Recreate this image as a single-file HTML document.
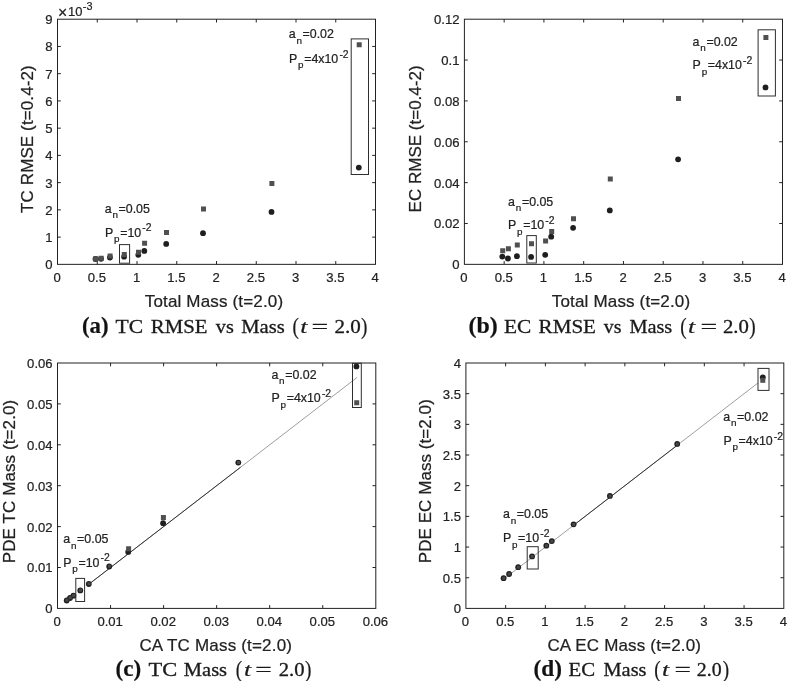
<!DOCTYPE html>
<html lang="en"><head><meta charset="utf-8"><title>Figure: RMSE and mass comparisons</title>
<style>html,body{margin:0;padding:0;background:#fff}svg{display:block}svg text{font-family:"Liberation Sans",Arial,Helvetica,sans-serif;stroke:#222;stroke-width:0.22px}.cap{font-family:"Liberation Serif","Times New Roman",serif;font-size:19px;fill:#1a1a1a;stroke:#1a1a1a;stroke-width:0.3px}.capb{font-family:"Liberation Serif","Times New Roman",serif;font-weight:bold;font-size:24px;fill:#111}.capi{font-family:"Liberation Serif","Times New Roman",serif;font-style:italic;font-size:19.5px;fill:#1a1a1a;stroke:#1a1a1a;stroke-width:0.2px}.capp{font-family:"Liberation Serif","Times New Roman",serif;font-size:23px;fill:#1a1a1a}</style></head><body>
<svg width="788" height="681" viewBox="0 0 788 681">
<rect width="788" height="681" fill="#fff"/>
<rect x="57.5" y="19.2" width="318" height="245.15" fill="none" stroke="#222" stroke-width="1.0"/>
<path d="M97.25 264.35v-3.3M97.25 19.2v3.3M137 264.35v-3.3M137 19.2v3.3M176.75 264.35v-3.3M176.75 19.2v3.3M216.5 264.35v-3.3M216.5 19.2v3.3M256.25 264.35v-3.3M256.25 19.2v3.3M296 264.35v-3.3M296 19.2v3.3M335.75 264.35v-3.3M335.75 19.2v3.3M57.5 237.11h3.3M375.5 237.11h-3.3M57.5 209.87h3.3M375.5 209.87h-3.3M57.5 182.63h3.3M375.5 182.63h-3.3M57.5 155.39h3.3M375.5 155.39h-3.3M57.5 128.16h3.3M375.5 128.16h-3.3M57.5 100.92h3.3M375.5 100.92h-3.3M57.5 73.68h3.3M375.5 73.68h-3.3M57.5 46.44h3.3M375.5 46.44h-3.3" stroke="#222" stroke-width="1" fill="none"/>
<g font-size="13.1" fill="#222">
<g text-anchor="middle">
<text x="57.1" y="282.35">0</text>
<text x="96.85" y="282.35">0.5</text>
<text x="136.6" y="282.35">1</text>
<text x="176.35" y="282.35">1.5</text>
<text x="216.1" y="282.35">2</text>
<text x="255.85" y="282.35">2.5</text>
<text x="295.6" y="282.35">3</text>
<text x="335.35" y="282.35">3.5</text>
<text x="375.1" y="282.35">4</text>
</g><g text-anchor="end">
<text x="52.6" y="269.25">0</text>
<text x="52.6" y="242.01">1</text>
<text x="52.6" y="214.77">2</text>
<text x="52.6" y="187.53">3</text>
<text x="52.6" y="160.29">4</text>
<text x="52.6" y="133.06">5</text>
<text x="52.6" y="105.82">6</text>
<text x="52.6" y="78.58">7</text>
<text x="52.6" y="51.34">8</text>
<text x="52.6" y="24.1">9</text>
</g></g>
<text font-size="12.9" fill="#222"><tspan x="58.0" y="17.6" font-size="15.8">×</tspan><tspan x="68.1" y="16.3">10</tspan><tspan x="82.8" y="9.8" font-size="10.8">-3</tspan></text>
<text x="213.9" y="306.6" font-size="17" text-anchor="middle" fill="#222" textLength="138.3">Total Mass (t=2.0)</text>
<text transform="translate(32.8 139.1) rotate(-90)" font-size="17" text-anchor="middle" fill="#222" textLength="147.6">TC RMSE (t=0.4-2)</text>
<g fill="#1f1f1f"><circle cx="358.8" cy="167.6" r="2.9"/><circle cx="271.5" cy="211.9" r="2.9"/><circle cx="203" cy="233.2" r="2.9"/><circle cx="166.2" cy="243.9" r="2.9"/><circle cx="144.3" cy="250.9" r="2.9"/><circle cx="138.3" cy="254.8" r="2.9"/><circle cx="124.1" cy="256.7" r="2.9"/><circle cx="109.9" cy="257.5" r="2.9"/><circle cx="101" cy="258.8" r="2.9"/><circle cx="95.5" cy="259" r="2.9"/></g>
<path d="M356.7 42.2h5.0v5.0h-5.0zM269.4 181h5.0v5.0h-5.0zM201 206.6h5.0v5.0h-5.0zM164 230h5.0v5.0h-5.0zM142.1 240.8h5.0v5.0h-5.0zM136 249.7h5.0v5.0h-5.0zM121.8 252h5.0v5.0h-5.0zM107.6 253.4h5.0v5.0h-5.0zM98.7 255.8h5.0v5.0h-5.0zM93.2 256.2h5.0v5.0h-5.0z" fill="#505050"/>
<rect x="119.5" y="244.6" width="10.1" height="18.6" fill="none" stroke="#2e2e2e" stroke-width="1"/>
<rect x="351.2" y="38.9" width="17.3" height="135.6" fill="none" stroke="#2e2e2e" stroke-width="1"/>
<text x="104.7" y="212.6" font-size="12.4" fill="#222">a<tspan font-size="9.9" dx="0.8" dy="5.6">n</tspan><tspan dx="0.6" dy="-5.6">=0.05</tspan></text>
<text x="105" y="236.6" font-size="12.4" fill="#222">P<tspan font-size="9.9" dx="0.8" dy="5.6">p</tspan><tspan dx="0.6" dy="-5.6">=10</tspan><tspan font-size="10.4" dx="1.1" dy="-5.2">-2</tspan></text>
<text x="288.7" y="38.4" font-size="12.4" fill="#222">a<tspan font-size="9.9" dx="0.8" dy="5.6">n</tspan><tspan dx="0.6" dy="-5.6">=0.02</tspan></text>
<text x="289" y="62.7" font-size="12.4" fill="#222">P<tspan font-size="9.9" dx="0.8" dy="5.6">p</tspan><tspan dx="0.6" dy="-5.6">=4x10</tspan><tspan font-size="10.4" dx="1.1" dy="-5.2">-2</tspan></text>
<text class="capb" x="82" y="332.8" textLength="26.6" lengthAdjust="spacingAndGlyphs">(a)</text>
<text class="cap" x="115.6" y="332.8" textLength="27.6" lengthAdjust="spacingAndGlyphs">TC</text>
<text class="cap" x="150.8" y="332.8" textLength="56.6" lengthAdjust="spacingAndGlyphs">RMSE</text>
<text class="cap" x="215.8" y="332.8" textLength="18" lengthAdjust="spacingAndGlyphs">vs</text>
<text class="cap" x="241.3" y="332.8" textLength="43.5" lengthAdjust="spacingAndGlyphs">Mass</text>
<text class="capp" x="292.6" y="333.6" textLength="6.4" lengthAdjust="spacingAndGlyphs">(</text>
<text class="capi" x="300.2" y="332.8" textLength="7.2" lengthAdjust="spacingAndGlyphs">t</text>
<text class="cap" x="311.5" y="332.8" textLength="16.7" lengthAdjust="spacingAndGlyphs">=</text>
<text class="cap" x="334.6" y="332.8" textLength="26.3" lengthAdjust="spacingAndGlyphs">2.0</text>
<text class="capp" x="361" y="333.6" textLength="6.4" lengthAdjust="spacingAndGlyphs">)</text>
<rect x="464.4" y="19.2" width="318.1" height="245.15" fill="none" stroke="#222" stroke-width="1.0"/>
<path d="M504.16 264.35v-3.3M504.16 19.2v3.3M543.92 264.35v-3.3M543.92 19.2v3.3M583.69 264.35v-3.3M583.69 19.2v3.3M623.45 264.35v-3.3M623.45 19.2v3.3M663.21 264.35v-3.3M663.21 19.2v3.3M702.98 264.35v-3.3M702.98 19.2v3.3M742.74 264.35v-3.3M742.74 19.2v3.3M464.4 223.49h3.3M782.5 223.49h-3.3M464.4 182.63h3.3M782.5 182.63h-3.3M464.4 141.78h3.3M782.5 141.78h-3.3M464.4 100.92h3.3M782.5 100.92h-3.3M464.4 60.06h3.3M782.5 60.06h-3.3" stroke="#222" stroke-width="1" fill="none"/>
<g font-size="13.1" fill="#222">
<g text-anchor="middle">
<text x="464" y="282.35">0</text>
<text x="503.76" y="282.35">0.5</text>
<text x="543.52" y="282.35">1</text>
<text x="583.29" y="282.35">1.5</text>
<text x="623.05" y="282.35">2</text>
<text x="662.81" y="282.35">2.5</text>
<text x="702.58" y="282.35">3</text>
<text x="742.34" y="282.35">3.5</text>
<text x="782.1" y="282.35">4</text>
</g><g text-anchor="end">
<text x="459.5" y="269.25">0</text>
<text x="459.5" y="228.39">0.02</text>
<text x="459.5" y="187.53">0.04</text>
<text x="459.5" y="146.68">0.06</text>
<text x="459.5" y="105.82">0.08</text>
<text x="459.5" y="64.96">0.1</text>
<text x="459.5" y="24.1">0.12</text>
</g></g>
<text x="621" y="306.6" font-size="17" text-anchor="middle" fill="#222" textLength="138.3">Total Mass (t=2.0)</text>
<text transform="translate(421.3 138.9) rotate(-90)" font-size="17" text-anchor="middle" fill="#222" textLength="147.1">EC RMSE (t=0.4-2)</text>
<g fill="#1f1f1f"><circle cx="765.5" cy="87.4" r="2.9"/><circle cx="678.1" cy="159.3" r="2.9"/><circle cx="609.8" cy="210.4" r="2.9"/><circle cx="573.1" cy="227.8" r="2.9"/><circle cx="551.2" cy="236.7" r="2.9"/><circle cx="545.2" cy="254.8" r="2.9"/><circle cx="531.1" cy="256.9" r="2.9"/><circle cx="516.9" cy="256.2" r="2.9"/><circle cx="507.9" cy="258.5" r="2.9"/><circle cx="502.3" cy="256.6" r="2.9"/></g>
<path d="M763.4 34.9h5.0v5.0h-5.0zM676 96h5.0v5.0h-5.0zM607.8 176.6h5.0v5.0h-5.0zM571 216.2h5.0v5.0h-5.0zM549.2 229h5.0v5.0h-5.0zM543.1 238.5h5.0v5.0h-5.0zM529 241.2h5.0v5.0h-5.0zM514.8 242.4h5.0v5.0h-5.0zM505.9 246.3h5.0v5.0h-5.0zM500.2 248.2h5.0v5.0h-5.0z" fill="#505050"/>
<rect x="526.8" y="235.6" width="9.5" height="27.4" fill="none" stroke="#2e2e2e" stroke-width="1"/>
<rect x="758.1" y="29.8" width="17.3" height="66.2" fill="none" stroke="#2e2e2e" stroke-width="1"/>
<text x="508.1" y="205.5" font-size="12.4" fill="#222">a<tspan font-size="9.9" dx="0.8" dy="5.6">n</tspan><tspan dx="0.6" dy="-5.6">=0.05</tspan></text>
<text x="508" y="229.1" font-size="12.4" fill="#222">P<tspan font-size="9.9" dx="0.8" dy="5.6">p</tspan><tspan dx="0.6" dy="-5.6">=10</tspan><tspan font-size="10.4" dx="1.1" dy="-5.2">-2</tspan></text>
<text x="692.6" y="45.8" font-size="12.4" fill="#222">a<tspan font-size="9.9" dx="0.8" dy="5.6">n</tspan><tspan dx="0.6" dy="-5.6">=0.02</tspan></text>
<text x="692.6" y="69.3" font-size="12.4" fill="#222">P<tspan font-size="9.9" dx="0.8" dy="5.6">p</tspan><tspan dx="0.6" dy="-5.6">=4x10</tspan><tspan font-size="10.4" dx="1.1" dy="-5.2">-2</tspan></text>
<text class="capb" x="468.6" y="332.8" textLength="29.2" lengthAdjust="spacingAndGlyphs">(b)</text>
<text class="cap" x="504" y="332.8" textLength="27.3" lengthAdjust="spacingAndGlyphs">EC</text>
<text class="cap" x="538.6" y="332.8" textLength="57.4" lengthAdjust="spacingAndGlyphs">RMSE</text>
<text class="cap" x="603.7" y="332.8" textLength="17.7" lengthAdjust="spacingAndGlyphs">vs</text>
<text class="cap" x="629.4" y="332.8" textLength="42.9" lengthAdjust="spacingAndGlyphs">Mass</text>
<text class="capp" x="680.2" y="333.6" textLength="6.4" lengthAdjust="spacingAndGlyphs">(</text>
<text class="capi" x="687.9" y="332.8" textLength="7.2" lengthAdjust="spacingAndGlyphs">t</text>
<text class="cap" x="700.6" y="332.8" textLength="16.7" lengthAdjust="spacingAndGlyphs">=</text>
<text class="cap" x="723" y="332.8" textLength="25.9" lengthAdjust="spacingAndGlyphs">2.0</text>
<text class="capp" x="749.3" y="333.6" textLength="6.4" lengthAdjust="spacingAndGlyphs">)</text>
<rect x="57.5" y="363" width="318.3" height="245.4" fill="none" stroke="#222" stroke-width="1.0"/>
<path d="M110.55 608.4v-3.3M110.55 363v3.3M163.6 608.4v-3.3M163.6 363v3.3M216.65 608.4v-3.3M216.65 363v3.3M269.7 608.4v-3.3M269.7 363v3.3M322.75 608.4v-3.3M322.75 363v3.3M57.5 567.5h3.3M375.8 567.5h-3.3M57.5 526.6h3.3M375.8 526.6h-3.3M57.5 485.7h3.3M375.8 485.7h-3.3M57.5 444.8h3.3M375.8 444.8h-3.3M57.5 403.9h3.3M375.8 403.9h-3.3" stroke="#222" stroke-width="1" fill="none"/>
<g font-size="13.1" fill="#222">
<g text-anchor="middle">
<text x="57.1" y="626.4">0</text>
<text x="110.15" y="626.4">0.01</text>
<text x="163.2" y="626.4">0.02</text>
<text x="216.25" y="626.4">0.03</text>
<text x="269.3" y="626.4">0.04</text>
<text x="322.35" y="626.4">0.05</text>
<text x="375.4" y="626.4">0.06</text>
</g><g text-anchor="end">
<text x="52.6" y="613.3">0</text>
<text x="52.6" y="572.4">0.01</text>
<text x="52.6" y="531.5">0.02</text>
<text x="52.6" y="490.6">0.03</text>
<text x="52.6" y="449.7">0.04</text>
<text x="52.6" y="408.8">0.05</text>
<text x="52.6" y="367.9">0.06</text>
</g></g>
<text x="215.7" y="650.7" font-size="17" text-anchor="middle" fill="#222" textLength="152.6">CA TC Mass (t=2.0)</text>
<text transform="translate(15.2 481.5) rotate(-90)" font-size="17" text-anchor="middle" fill="#222" textLength="163.5">PDE TC Mass (t=2.0)</text>
<path d="M88.8 584.27L357.13 377.4" stroke="#8c8c8c" stroke-width="0.85" fill="none"/>
<path d="M88.8 584.27L240.52 467.29" stroke="#363636" stroke-width="1.0" fill="none"/>
<g fill="#1f1f1f"><circle cx="66.7" cy="600.5" r="2.9"/><circle cx="70" cy="598" r="2.9"/><circle cx="73.4" cy="595.7" r="2.9"/><circle cx="80.3" cy="590.4" r="2.9"/><circle cx="88.8" cy="584" r="2.9"/><circle cx="109.2" cy="566.5" r="2.9"/><circle cx="128.2" cy="551.9" r="2.9"/><circle cx="163.1" cy="523.2" r="2.9"/><circle cx="238.3" cy="462.6" r="2.9"/><circle cx="356.4" cy="366.4" r="2.9"/></g>
<path d="M65.4 598.8h3.0v3.0h-3.0zM68.7 596.3h3.0v3.0h-3.0zM72.1 594h3.0v3.0h-3.0zM79 588.7h3.0v3.0h-3.0zM87.5 582.3h3.0v3.0h-3.0zM107.9 564.8h3.0v3.0h-3.0zM237 460.9h3.0v3.0h-3.0z" fill="#484848"/>
<path d="M126.1 546.3h5.0v5.0h-5.0zM160.9 515.1h5.0v5.0h-5.0zM354.2 400.2h5.0v5.0h-5.0z" fill="#505050"/>
<rect x="75.8" y="578.4" width="8.8" height="23.1" fill="none" stroke="#2e2e2e" stroke-width="1"/>
<rect x="352.5" y="363.4" width="8.8" height="44.1" fill="none" stroke="#2e2e2e" stroke-width="1"/>
<text x="63.3" y="542.9" font-size="12.4" fill="#222">a<tspan font-size="9.9" dx="0.8" dy="5.6">n</tspan><tspan dx="0.6" dy="-5.6">=0.05</tspan></text>
<text x="63.3" y="566.6" font-size="12.4" fill="#222">P<tspan font-size="9.9" dx="0.8" dy="5.6">p</tspan><tspan dx="0.6" dy="-5.6">=10</tspan><tspan font-size="10.4" dx="1.1" dy="-5.2">-2</tspan></text>
<text x="271.4" y="378.6" font-size="12.4" fill="#222">a<tspan font-size="9.9" dx="0.8" dy="5.6">n</tspan><tspan dx="0.6" dy="-5.6">=0.02</tspan></text>
<text x="271.5" y="402.4" font-size="12.4" fill="#222">P<tspan font-size="9.9" dx="0.8" dy="5.6">p</tspan><tspan dx="0.6" dy="-5.6">=4x10</tspan><tspan font-size="10.4" dx="1.1" dy="-5.2">-2</tspan></text>
<text class="capb" x="115.6" y="675.8" textLength="25.6" lengthAdjust="spacingAndGlyphs">(c)</text>
<text class="cap" x="148.5" y="675.8" textLength="28.7" lengthAdjust="spacingAndGlyphs">TC</text>
<text class="cap" x="183.8" y="675.8" textLength="43.3" lengthAdjust="spacingAndGlyphs">Mass</text>
<text class="capp" x="235.8" y="676.6" textLength="6.4" lengthAdjust="spacingAndGlyphs">(</text>
<text class="capi" x="243.9" y="675.8" textLength="7.2" lengthAdjust="spacingAndGlyphs">t</text>
<text class="cap" x="255.3" y="675.8" textLength="16.5" lengthAdjust="spacingAndGlyphs">=</text>
<text class="cap" x="278.7" y="675.8" textLength="25.8" lengthAdjust="spacingAndGlyphs">2.0</text>
<text class="capp" x="305" y="676.6" textLength="6.4" lengthAdjust="spacingAndGlyphs">)</text>
<rect x="465.9" y="363" width="317.9" height="245.4" fill="none" stroke="#222" stroke-width="1.0"/>
<path d="M505.64 608.4v-3.3M505.64 363v3.3M545.38 608.4v-3.3M545.38 363v3.3M585.11 608.4v-3.3M585.11 363v3.3M624.85 608.4v-3.3M624.85 363v3.3M664.59 608.4v-3.3M664.59 363v3.3M704.32 608.4v-3.3M704.32 363v3.3M744.06 608.4v-3.3M744.06 363v3.3M465.9 577.73h3.3M783.8 577.73h-3.3M465.9 547.05h3.3M783.8 547.05h-3.3M465.9 516.38h3.3M783.8 516.38h-3.3M465.9 485.7h3.3M783.8 485.7h-3.3M465.9 455.02h3.3M783.8 455.02h-3.3M465.9 424.35h3.3M783.8 424.35h-3.3M465.9 393.68h3.3M783.8 393.68h-3.3" stroke="#222" stroke-width="1" fill="none"/>
<g font-size="13.1" fill="#222">
<g text-anchor="middle">
<text x="465.5" y="626.4">0</text>
<text x="505.24" y="626.4">0.5</text>
<text x="544.98" y="626.4">1</text>
<text x="584.71" y="626.4">1.5</text>
<text x="624.45" y="626.4">2</text>
<text x="664.19" y="626.4">2.5</text>
<text x="703.92" y="626.4">3</text>
<text x="743.66" y="626.4">3.5</text>
<text x="783.4" y="626.4">4</text>
</g><g text-anchor="end">
<text x="461" y="613.3">0</text>
<text x="461" y="582.62">0.5</text>
<text x="461" y="551.95">1</text>
<text x="461" y="521.27">1.5</text>
<text x="461" y="490.6">2</text>
<text x="461" y="459.92">2.5</text>
<text x="461" y="429.25">3</text>
<text x="461" y="398.57">3.5</text>
<text x="461" y="367.9">4</text>
</g></g>
<text x="624.2" y="650.7" font-size="17" text-anchor="middle" fill="#222" textLength="153.6">CA EC Mass (t=2.0)</text>
<text transform="translate(430.9 481.2) rotate(-90)" font-size="17" text-anchor="middle" fill="#222" textLength="164.0">PDE EC Mass (t=2.0)</text>
<path d="M503.57 579.32L757.97 382.94" stroke="#8c8c8c" stroke-width="0.85" fill="none"/>
<path d="M573.59 525.27L677.3 445.21" stroke="#363636" stroke-width="1.0" fill="none"/>
<g fill="#1f1f1f"><circle cx="762.8" cy="377.3" r="2.9"/><circle cx="677.2" cy="443.9" r="2.9"/><circle cx="609.9" cy="495.9" r="2.9"/><circle cx="573.6" cy="524.3" r="2.9"/><circle cx="551.8" cy="541.1" r="2.9"/><circle cx="546.3" cy="545.7" r="2.9"/><circle cx="532.05" cy="556.4" r="2.9"/><circle cx="518.2" cy="567.2" r="2.9"/><circle cx="509.1" cy="574" r="2.9"/><circle cx="503.6" cy="578.2" r="2.9"/></g>
<path d="M675.8 442.5h3.0v3.0h-3.0zM608.5 494.5h3.0v3.0h-3.0zM572.2 522.9h3.0v3.0h-3.0zM550.4 539.7h3.0v3.0h-3.0zM544.9 544.3h3.0v3.0h-3.0zM530.65 555h3.0v3.0h-3.0zM516.8 565.8h3.0v3.0h-3.0zM507.7 572.6h3.0v3.0h-3.0zM502.2 576.8h3.0v3.0h-3.0z" fill="#484848"/>
<path d="M760.3 377.8h5.0v5.0h-5.0z" fill="#505050"/>
<rect x="527.2" y="546.7" width="11" height="22.3" fill="none" stroke="#2e2e2e" stroke-width="1"/>
<rect x="758" y="368.4" width="11" height="22" fill="none" stroke="#2e2e2e" stroke-width="1"/>
<text x="503" y="518.2" font-size="12.4" fill="#222">a<tspan font-size="9.9" dx="0.8" dy="5.6">n</tspan><tspan dx="0.6" dy="-5.6">=0.05</tspan></text>
<text x="502.9" y="542.2" font-size="12.4" fill="#222">P<tspan font-size="9.9" dx="0.8" dy="5.6">p</tspan><tspan dx="0.6" dy="-5.6">=10</tspan><tspan font-size="10.4" dx="1.1" dy="-5.2">-2</tspan></text>
<text x="723.3" y="420.6" font-size="12.4" fill="#222">a<tspan font-size="9.9" dx="0.8" dy="5.6">n</tspan><tspan dx="0.6" dy="-5.6">=0.02</tspan></text>
<text x="723.4" y="444.8" font-size="12.4" fill="#222">P<tspan font-size="9.9" dx="0.8" dy="5.6">p</tspan><tspan dx="0.6" dy="-5.6">=4x10</tspan><tspan font-size="10.4" dx="1.1" dy="-5.2">-2</tspan></text>
<text class="capb" x="533.6" y="675.8" textLength="28.4" lengthAdjust="spacingAndGlyphs">(d)</text>
<text class="cap" x="568.6" y="675.8" textLength="26.6" lengthAdjust="spacingAndGlyphs">EC</text>
<text class="cap" x="603.5" y="675.8" textLength="43" lengthAdjust="spacingAndGlyphs">Mass</text>
<text class="capp" x="654.2" y="676.6" textLength="6.4" lengthAdjust="spacingAndGlyphs">(</text>
<text class="capi" x="662" y="675.8" textLength="7.2" lengthAdjust="spacingAndGlyphs">t</text>
<text class="cap" x="674.6" y="675.8" textLength="16.4" lengthAdjust="spacingAndGlyphs">=</text>
<text class="cap" x="696.8" y="675.8" textLength="24.8" lengthAdjust="spacingAndGlyphs">2.0</text>
<text class="capp" x="722.7" y="676.6" textLength="6.4" lengthAdjust="spacingAndGlyphs">)</text>
</svg></body></html>
